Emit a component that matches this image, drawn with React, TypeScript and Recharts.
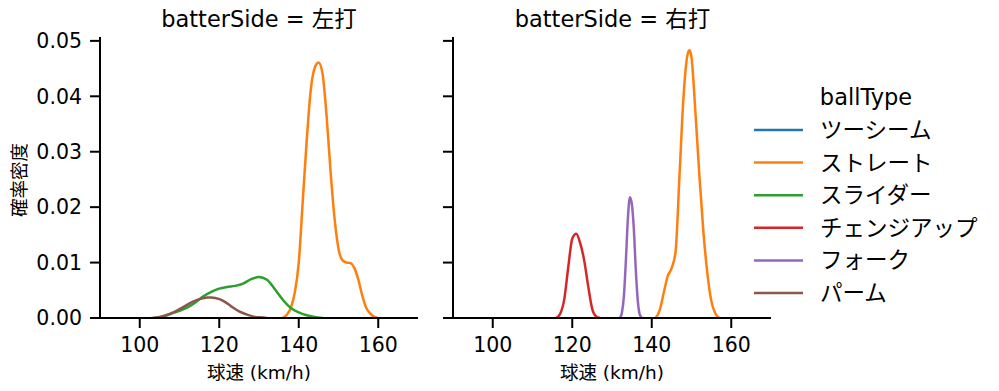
import React from 'react';
import { LineChart, Line, XAxis, YAxis, Label } from 'recharts';

const ballTypes = ['ツーシーム', 'ストレート', 'スライダー', 'チェンジアップ', 'フォーク', 'パーム'];
const colors = ['#1f77b4', '#ff7f0e', '#2ca02c', '#d62728', '#9467bd', '#8c564b'];

const xTicks = [100, 120, 140, 160];
const yTicks = [0, 0.01, 0.02, 0.03, 0.04, 0.05];

// 左打
const leftStraightX = [136, 137, 138, 139, 140, 141, 142, 143, 144, 145, 146, 147, 148, 149, 150, 151, 152, 153, 154, 155, 156, 157, 158, 159, 160];
const leftStraightY = [0, 0.0006, 0.0018, 0.0046, 0.01, 0.021, 0.032, 0.041, 0.0451, 0.0461, 0.044, 0.0365, 0.0265, 0.018, 0.0125, 0.0104, 0.01, 0.0099, 0.009, 0.0069, 0.004, 0.0018, 0.0008, 0.0002, 0];
const leftSliderX = [104, 106, 108, 110, 112, 114, 116, 118, 120, 122, 124, 126, 128, 130, 132, 134, 136, 138, 140, 142, 144, 146];
const leftSliderY = [0, 0.0003, 0.0008, 0.0013, 0.0019, 0.0028, 0.0039, 0.0047, 0.0053, 0.0056, 0.0058, 0.0062, 0.007, 0.0074, 0.0069, 0.0052, 0.0033, 0.0018, 0.001, 0.0005, 0.0002, 0];
const leftPalmX = [103, 105, 107, 109, 111, 113, 115, 117, 118, 119, 121, 123, 125, 127, 129, 131, 132];
const leftPalmY = [0, 0.0002, 0.0006, 0.0012, 0.002, 0.0028, 0.0034, 0.0037, 0.0037, 0.0036, 0.0031, 0.0021, 0.0012, 0.0006, 0.0002, 0.0001, 0];

// 右打
const rightChangeX = [116, 117, 118, 119, 120, 121, 122, 123, 124, 125, 126, 127];
const rightChangeY = [0, 0.0008, 0.0034, 0.0092, 0.0143, 0.0152, 0.0135, 0.0104, 0.0058, 0.0017, 0.0003, 0];
const rightForkX = [132, 132.5, 133, 133.5, 134, 134.5, 135, 135.5, 136, 136.5, 137, 137.5];
const rightForkY = [0, 0.001, 0.004, 0.0105, 0.018, 0.0218, 0.0205, 0.016, 0.0085, 0.003, 0.0006, 0];
const rightStraightX = [141, 142, 143, 144, 145, 146, 147, 148, 149, 149.5, 150, 151, 152, 153, 154, 155, 156, 157];
const rightStraightY = [0, 0.0014, 0.0045, 0.0075, 0.009, 0.012, 0.026, 0.04, 0.0475, 0.0483, 0.047, 0.037, 0.0255, 0.0155, 0.008, 0.003, 0.0008, 0];

const toPoints = (xs: number[], ys: number[]) => xs.map((x, i) => ({ x, y: ys[i] }));

const leftSeries = [
  { type: 1, data: toPoints(leftStraightX, leftStraightY) },
  { type: 2, data: toPoints(leftSliderX, leftSliderY) },
  { type: 5, data: toPoints(leftPalmX, leftPalmY) },
];
const rightSeries = [
  { type: 1, data: toPoints(rightStraightX, rightStraightY) },
  { type: 3, data: toPoints(rightChangeX, rightChangeY) },
  { type: 4, data: toPoints(rightForkX, rightForkY) },
];

const font = '"DejaVu Sans", "Noto Sans CJK JP", sans-serif';
const axisStyle = { stroke: '#000', strokeWidth: 2 };

const Facet = ({ series, yWidth, showY }: { series: typeof leftSeries; yWidth: number; showY: boolean }) => (
  <LineChart width={yWidth + 320} height={391} margin={{ top: 37, right: 2, bottom: 0, left: 0 }}>
    <XAxis
      dataKey="x"
      type="number"
      domain={[90, 170]}
      ticks={xTicks}
      allowDataOverflow
      height={73}
      tickSize={10}
      tickMargin={9}
      axisLine={axisStyle}
      tickLine={axisStyle}
      tick={{ fill: '#000', fontSize: 20.5, fontFamily: font }}
    >
      <Label value="球速 (km/h)" position="insideBottom" offset={12} style={{ fill: '#000', fontSize: 18.5, fontFamily: font }} />
    </XAxis>
    <YAxis
      type="number"
      domain={[0, 0.0507]}
      ticks={yTicks}
      allowDataOverflow
      width={yWidth}
      tickSize={10}
      tickMargin={8}
      axisLine={axisStyle}
      tickLine={axisStyle}
      tickFormatter={(v: number) => (showY ? v.toFixed(2) : '')}
      tick={{ fill: '#000', fontSize: 20.5, fontFamily: font }}
    />
    {series.map((s) => (
      <Line
        key={s.type}
        data={s.data}
        dataKey="y"
        type="monotone"
        stroke={colors[s.type]}
        strokeWidth={2.5}
        dot={false}
        activeDot={false}
        isAnimationActive={false}
      />
    ))}
  </LineChart>
);

const App = () => (
  <div style={{ position: 'relative', width: 999, height: 391, margin: -8, background: '#fff', fontFamily: font, color: '#000' }}>
    <div style={{ position: 'absolute', left: 0, top: 0 }}>
      <Facet series={leftSeries} yWidth={100} showY />
    </div>
    <div style={{ position: 'absolute', left: 420, top: 0 }}>
      <Facet series={rightSeries} yWidth={33} showY={false} />
    </div>
    <div style={{ position: 'absolute', left: 100, width: 318, top: 3, textAlign: 'center', fontSize: 22.5, lineHeight: '32px', whiteSpace: 'nowrap' }}>
      batterSide = 左打
    </div>
    <div style={{ position: 'absolute', left: 453, width: 319, top: 3, textAlign: 'center', fontSize: 22.5, lineHeight: '32px', whiteSpace: 'nowrap' }}>
      batterSide = 右打
    </div>
    <div
      style={{
        position: 'absolute',
        left: 18,
        top: 180,
        fontSize: 18.5,
        whiteSpace: 'nowrap',
        transform: 'translate(-50%, -50%) rotate(-90deg)',
      }}
    >
      確率密度
    </div>
    <svg style={{ position: 'absolute', left: 740, top: 70 }} width={259} height={240}>
      <text x={126} y={35} textAnchor="middle" fontSize={22.5} fontFamily={font} fill="#000">
        ballType
      </text>
      {ballTypes.map((name, i) => (
        <g key={name}>
          <line x1={14} x2={63} y1={60 + i * 32.6} y2={60 + i * 32.6} stroke={colors[i]} strokeWidth={2.5} />
          <text x={80} y={60 + i * 32.6 + 8} fontSize={22.5} fontFamily={font} fill="#000">
            {name}
          </text>
        </g>
      ))}
    </svg>
  </div>
);

export default App;
